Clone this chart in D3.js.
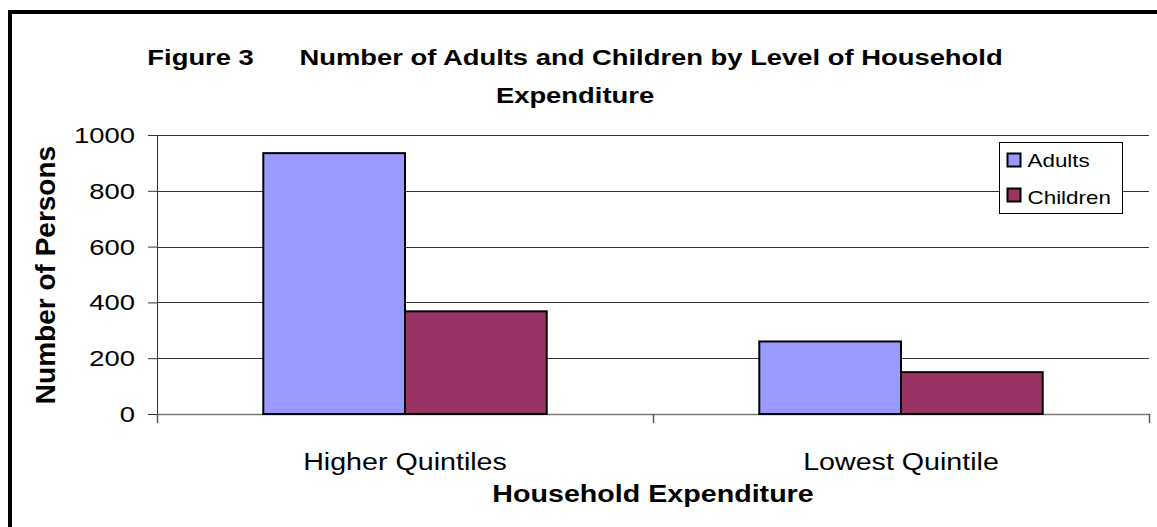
<!DOCTYPE html>
<html>
<head>
<meta charset="utf-8">
<script src="https://cdn.jsdelivr.net/npm/d3@7"></script>
<style>
  html, body { margin: 0; padding: 0; background: #fff; }
  svg { display: block; font-family: "Liberation Sans", Arial, sans-serif; }
</style>
</head>
<body>
<svg id="chart" width="1157" height="527"></svg>
<script>
const categories = ["Higher Quintiles", "Lowest Quintile"];
const seriesNames = ["Adults", "Children"];
const adults = [935, 260];
const children = [368, 150];
const yTicks = [0, 200, 400, 600, 800, 1000];
const colors = ["#9999FF", "#993366"];

const SX = 1.245; // horizontal stretch of the reference's lettering

const svg = d3.select("#chart");
const W = 1157, H = 527;
const margin = { left: 157, right: 8, top: 135, bottom: 113 };
const plotW = W - margin.left - margin.right;
const plotH = H - margin.top - margin.bottom;

function stretchedText(parent, x, y, str, size, anchor, bold) {
  return parent.append("text")
    .attr("transform", `translate(${x},${y}) scale(${SX},1)`)
    .attr("text-anchor", anchor)
    .attr("font-size", size)
    .attr("font-weight", bold ? "bold" : "normal")
    .attr("fill", "#000")
    .style("white-space", "pre")
    .text(str);
}

// frame (left + top visible)
svg.append("path")
  .attr("d", `M10,${H} L10,12 L${W},12`)
  .attr("fill", "none").attr("stroke", "#000").attr("stroke-width", 4);

const g = svg.append("g").attr("transform", `translate(${margin.left},${margin.top})`);

const x0 = d3.scaleBand().domain(categories).range([0, plotW]).paddingInner(0).paddingOuter(0);
const x1 = d3.scaleBand().domain(seriesNames).range([0, x0.bandwidth()]).paddingInner(0).paddingOuter(0.75);
const y = d3.scaleLinear().domain([0, 1000]).range([plotH, 0]);

// gridlines
g.append("g").selectAll("line").data(yTicks.filter(d => d > 0)).join("line")
  .attr("x1", 0).attr("x2", plotW)
  .attr("y1", d => Math.round(y(d)) + 0.5).attr("y2", d => Math.round(y(d)) + 0.5)
  .attr("stroke", "#333").attr("stroke-width", 1);

// y axis ticks
const yAxis = g.append("g").call(d3.axisLeft(y).tickValues(yTicks).tickSize(9).tickFormat(""));
yAxis.select(".domain").remove();
yAxis.selectAll(".tick line").attr("stroke", "#333");
g.append("line").attr("x1", 0.5).attr("x2", 0.5).attr("y1", 0).attr("y2", plotH + 9)
  .attr("stroke", "#333");
yTicks.forEach(v => {
  stretchedText(g, -22, y(v), d3.format("d")(v), 22, "end", false).attr("dy", "0.36em");
});

// x axis
g.append("line").attr("x1", 0).attr("x2", plotW).attr("y1", plotH + 0.5).attr("y2", plotH + 0.5)
  .attr("stroke", "#777").attr("stroke-width", 1.5);
const xTickPos = [0, x0.bandwidth(), plotW];
g.append("g").selectAll("line").data(xTickPos).join("line")
  .attr("x1", d => d + 0.5).attr("x2", d => d + 0.5)
  .attr("y1", plotH).attr("y2", plotH + 9).attr("stroke", "#555").attr("stroke-width", 1.5);
categories.forEach(c => {
  stretchedText(g, x0(c) + x0.bandwidth() / 2, plotH + 56, c, 23, "middle", false);
});

// bars
const rows = categories.map((c, i) => ({ cat: c, vals: [adults[i], children[i]] }));
g.append("g").selectAll("g").data(rows).join("g")
  .attr("transform", d => `translate(${x0(d.cat)},0)`)
  .selectAll("rect").data(d => d.vals.map((v, j) => ({ key: seriesNames[j], v, j })))
  .join("rect")
  .attr("x", d => x1(d.key)).attr("width", x1.bandwidth())
  .attr("y", d => y(d.v)).attr("height", d => plotH - y(d.v))
  .attr("fill", d => colors[d.j]).attr("stroke", "#000").attr("stroke-width", 2);

// legend
const lg = svg.append("g").attr("transform", "translate(999.5,142.5)");
lg.append("rect").attr("width", 123).attr("height", 71).attr("fill", "#fff").attr("stroke", "#000");
seriesNames.forEach((s, i) => {
  lg.append("rect").attr("x", 8).attr("y", 11 + i * 35).attr("width", 13).attr("height", 13)
    .attr("fill", colors[i]).attr("stroke", "#000").attr("stroke-width", 2);
  stretchedText(lg, 28, 24.5 + i * 37, s, 18, "start", false);
});

// titles
stretchedText(svg, 575, 65, "Figure 3      Number of Adults and Children by Level of Household", 22, "middle", true);
stretchedText(svg, 575, 103, "Expenditure", 22, "middle", true);

stretchedText(svg, margin.left + plotW / 2, 502, "Household Expenditure", 23, "middle", true);

svg.append("text").attr("transform", "translate(55,275) rotate(-90)").attr("text-anchor", "middle")
  .attr("font-size", 28).attr("font-weight", "bold").text("Number of Persons");
</script>
</body>
</html>
